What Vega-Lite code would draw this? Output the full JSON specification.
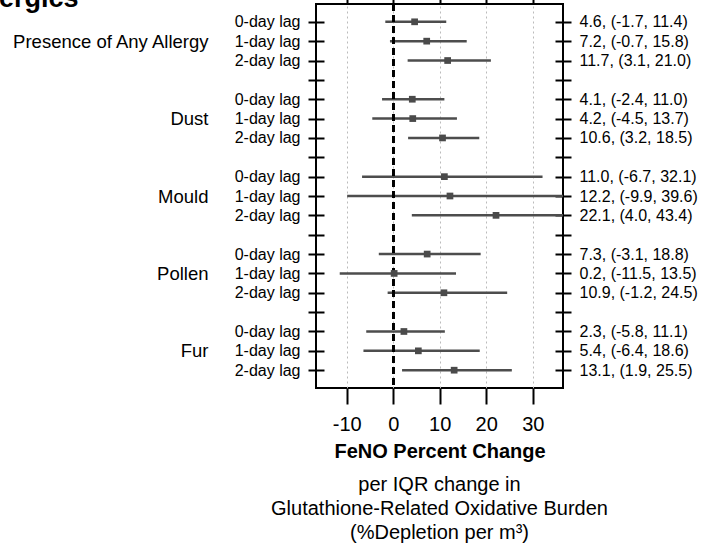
{
  "$schema": "https://vega.github.io/schema/vega-lite/v6.json",
  "autosize": {"type": "none"},
  "padding": {"left": 316, "top": 4, "right": 145, "bottom": 160},
  "width": 247,
  "height": 384,
  "background": "white",
  "config": {
    "font": "Liberation Sans",
    "view": {"stroke": "black", "strokeWidth": 2},
    "axis": {
      "labelFont": "Liberation Sans",
      "titleFont": "Liberation Sans",
      "labelColor": "black",
      "titleColor": "black",
      "tickColor": "black",
      "domainColor": "black",
      "tickWidth": 2,
      "labelOverlap": false,
      "labelLimit": 400
    }
  },
  "title": {
    "text": ["per IQR change in", "Glutathione-Related Oxidative Burden", "(%Depletion per m³)"],
    "orient": "bottom",
    "anchor": "middle",
    "frame": "group",
    "fontSize": 20,
    "fontWeight": "normal",
    "font": "Liberation Sans",
    "lineHeight": 24,
    "offset": 14,
    "color": "black"
  },
  "data": {
    "values": [
      {"row": "Presence of Any Allergy|0-day lag|4.6, (-1.7, 11.4)", "est": 4.6, "lo": -1.7, "hi": 11.4},
      {"row": "Presence of Any Allergy|1-day lag|7.2, (-0.7, 15.8)", "est": 7.2, "lo": -0.7, "hi": 15.8},
      {"row": "Presence of Any Allergy|2-day lag|11.7, (3.1, 21.0)", "est": 11.7, "lo": 3.1, "hi": 21.0},
      {"row": "Dust|0-day lag|4.1, (-2.4, 11.0)", "est": 4.1, "lo": -2.4, "hi": 11.0},
      {"row": "Dust|1-day lag|4.2, (-4.5, 13.7)", "est": 4.2, "lo": -4.5, "hi": 13.7},
      {"row": "Dust|2-day lag|10.6, (3.2, 18.5)", "est": 10.6, "lo": 3.2, "hi": 18.5},
      {"row": "Mould|0-day lag|11.0, (-6.7, 32.1)", "est": 11.0, "lo": -6.7, "hi": 32.1},
      {"row": "Mould|1-day lag|12.2, (-9.9, 39.6)", "est": 12.2, "lo": -9.9, "hi": 39.6},
      {"row": "Mould|2-day lag|22.1, (4.0, 43.4)", "est": 22.1, "lo": 4.0, "hi": 43.4},
      {"row": "Pollen|0-day lag|7.3, (-3.1, 18.8)", "est": 7.3, "lo": -3.1, "hi": 18.8},
      {"row": "Pollen|1-day lag|0.2, (-11.5, 13.5)", "est": 0.2, "lo": -11.5, "hi": 13.5},
      {"row": "Pollen|2-day lag|10.9, (-1.2, 24.5)", "est": 10.9, "lo": -1.2, "hi": 24.5},
      {"row": "Fur|0-day lag|2.3, (-5.8, 11.1)", "est": 2.3, "lo": -5.8, "hi": 11.1},
      {"row": "Fur|1-day lag|5.4, (-6.4, 18.6)", "est": 5.4, "lo": -6.4, "hi": 18.6},
      {"row": "Fur|2-day lag|13.1, (1.9, 25.5)", "est": 13.1, "lo": 1.9, "hi": 25.5}
    ]
  },
  "layer": [
    {
      "mark": {"type": "rule", "color": "#4d4d4d", "strokeWidth": 2.5, "clip": true},
      "encoding": {
        "x": {
          "field": "lo", "type": "quantitative",
          "scale": {"domain": [-16.6, 36.5], "nice": false, "zero": false},
          "axis": {
            "orient": "bottom", "values": [-10, 0, 10, 20, 30], "domain": false,
            "tickSize": 16, "labelFontSize": 20, "labelPadding": 10,
            "labelExpr": "toString(datum.value)",
            "grid": true, "gridDash": [2, 3], "gridColor": "#bbbbbb", "gridWidth": 1,
            "title": "FeNO Percent Change", "titleFontSize": 20, "titleFontWeight": "bold", "titlePadding": 7
          }
        },
        "x2": {"field": "hi"},
        "y": {
          "field": "row", "type": "nominal",
          "scale": {
            "type": "point", "padding": 0.92,
            "domain": [
              "Presence of Any Allergy|0-day lag|4.6, (-1.7, 11.4)",
              "Presence of Any Allergy|1-day lag|7.2, (-0.7, 15.8)",
              "Presence of Any Allergy|2-day lag|11.7, (3.1, 21.0)",
              "s1||",
              "Dust|0-day lag|4.1, (-2.4, 11.0)",
              "Dust|1-day lag|4.2, (-4.5, 13.7)",
              "Dust|2-day lag|10.6, (3.2, 18.5)",
              "s2||",
              "Mould|0-day lag|11.0, (-6.7, 32.1)",
              "Mould|1-day lag|12.2, (-9.9, 39.6)",
              "Mould|2-day lag|22.1, (4.0, 43.4)",
              "s3||",
              "Pollen|0-day lag|7.3, (-3.1, 18.8)",
              "Pollen|1-day lag|0.2, (-11.5, 13.5)",
              "Pollen|2-day lag|10.9, (-1.2, 24.5)",
              "s4||",
              "Fur|0-day lag|2.3, (-5.8, 11.1)",
              "Fur|1-day lag|5.4, (-6.4, 18.6)",
              "Fur|2-day lag|13.1, (1.9, 25.5)"
            ]
          },
          "axis": {
            "orient": "left", "offset": -8, "tickSize": 16, "labelPadding": 8,
            "domain": false, "labelFontSize": 16, "title": null,
            "labelExpr": "split(datum.value, '|')[1]"
          }
        }
      }
    },
    {
      "mark": {"type": "rule", "color": "black", "strokeWidth": 2, "strokeDash": [7, 4]},
      "encoding": {
        "x": {"datum": 0, "type": "quantitative", "axis": null}
      }
    },
    {
      "mark": {"type": "square", "color": "#4a4a4a", "opacity": 1, "size": 45},
      "encoding": {
        "x": {
          "field": "est", "type": "quantitative",
          "axis": {"orient": "top", "values": [-10, 0, 10, 20, 30], "domain": false, "tickSize": 16, "labels": false, "grid": false,
            "title": "Allergics", "titleFontSize": 27, "titleFontWeight": "bold", "titleAlign": "right", "titleBaseline": "alphabetic",
            "titleX": -238, "titleY": 2}
        },
        "y": {
          "field": "row", "type": "nominal",
          "axis": {
            "orient": "right", "offset": -8, "tickSize": 16, "labelPadding": 8,
            "domain": false, "labelFontSize": 16, "title": null,
            "labelExpr": "split(datum.value, '|')[2]"
          }
        }
      }
    },
    {
      "mark": {"type": "point", "opacity": 0},
      "encoding": {
        "x": {"field": "est", "type": "quantitative", "axis": null},
        "y": {
          "field": "row", "type": "nominal",
          "axis": {
            "orient": "left", "ticks": false, "labelPadding": 108,
            "domain": false, "labelFontSize": 18.5, "title": null,
            "labelExpr": "split(datum.value, '|')[1] == '1-day lag' ? split(datum.value, '|')[0] : ''"
          }
        }
      }
    }
  ],
  "resolve": {"axis": {"x": "independent", "y": "independent"}}
}
